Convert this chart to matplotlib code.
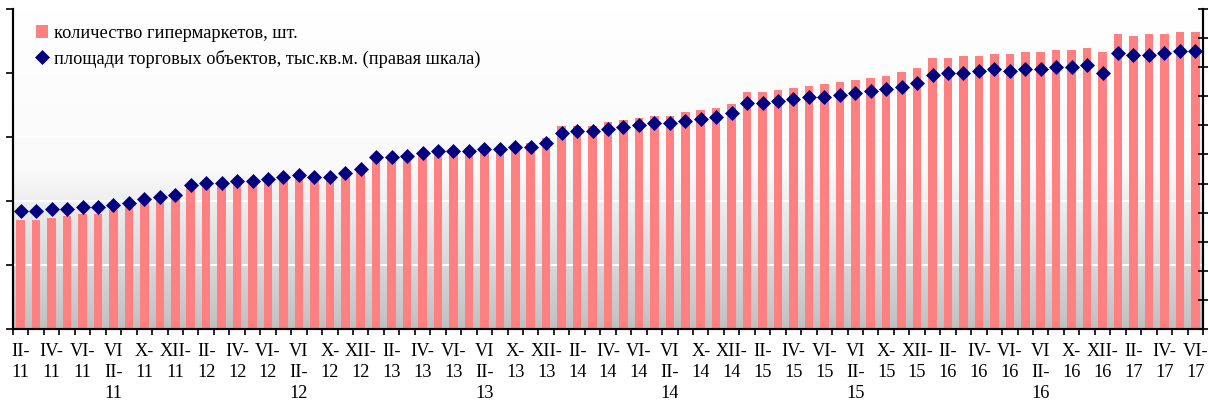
import numpy as np
import matplotlib
matplotlib.use('Agg')
import matplotlib.pyplot as plt
from matplotlib.colors import LinearSegmentedColormap

# monthly data, II-2011 ... VI-2017
hypermarkets = [170, 170, 173, 177, 180, 180, 186, 192, 197, 202,
                205, 222, 225, 225, 228, 228, 233, 236, 238, 234,
                234, 241, 247, 267, 267, 269, 272, 277, 277, 277,
                281, 283, 286, 291, 298, 317, 317, 317, 323, 327,
                330, 333, 333, 339, 342, 345, 352, 370, 370, 373,
                377, 380, 383, 386, 389, 392, 395, 402, 408, 423,
                423, 427, 427, 430, 430, 433, 433, 436, 436, 439,
                433, 461, 458, 461, 461, 464, 464]
area = [811, 811, 825, 825, 839, 839, 853, 866, 894, 908,
        921, 990, 1004, 1004, 1018, 1018, 1031, 1045, 1059, 1045,
        1045, 1073, 1100, 1183, 1183, 1191, 1212, 1226, 1226, 1226,
        1240, 1240, 1253, 1253, 1281, 1350, 1363, 1363, 1375, 1389,
        1405, 1418, 1418, 1432, 1446, 1460, 1487, 1556, 1556, 1570,
        1581, 1595, 1595, 1609, 1625, 1638, 1652, 1666, 1693, 1748,
        1762, 1762, 1774, 1788, 1774, 1788, 1788, 1801, 1801, 1815,
        1762, 1900, 1886, 1886, 1900, 1911, 1911]

tick_labels = ['II-\n11', 'IV-\n11', 'VI-\n11', 'VI\nII-\n11', 'X-\n11', 'XII-\n11',
               'II-\n12', 'IV-\n12', 'VI-\n12', 'VI\nII-\n12', 'X-\n12', 'XII-\n12',
               'II-\n13', 'IV-\n13', 'VI-\n13', 'VI\nII-\n13', 'X-\n13', 'XII-\n13',
               'II-\n14', 'IV-\n14', 'VI-\n14', 'VI\nII-\n14', 'X-\n14', 'XII-\n14',
               'II-\n15', 'IV-\n15', 'VI-\n15', 'VI\nII-\n15', 'X-\n15', 'XII-\n15',
               'II-\n16', 'IV-\n16', 'VI-\n16', 'VI\nII-\n16', 'X-\n16', 'XII-\n16',
               'II-\n17', 'IV-\n17', 'VI-\n17']

label_bars = 'количество гипермаркетов, шт.'
label_area = 'площади торговых объектов, тыс.кв.м. (правая шкала)'

plt.rcParams['font.family'] = ['Liberation Serif', 'DejaVu Serif']

fig = plt.figure(figsize=(12.08, 4.03), dpi=100)
ax = fig.add_axes([13 / 1208, 74 / 403, 1190 / 1208, 320 / 403])

x = np.arange(len(hypermarkets))
n = len(hypermarkets)

# gradient background
bg = LinearSegmentedColormap.from_list('bg', ['#ffffff', '#fafafa', '#c0c0c0'])
ax.imshow(np.linspace(0, 1, 256).reshape(-1, 1), cmap=bg, aspect='auto',
          extent=[-0.5, n - 0.5, 0, 500], origin='upper', zorder=0)

bars = ax.bar(x, hypermarkets, width=0.55, color='#ff8080', zorder=2)
ax.set_xlim(-0.5, n - 0.5)
ax.set_ylim(0, 500)
ax.set_yticks(np.arange(0, 501, 100))
ax.set_yticklabels([])
ax.yaxis.grid(True, color='white', linewidth=1.5)
ax.tick_params(axis='y', direction='out', length=5, width=1.2)

ax.set_xticks(np.arange(-0.5, n, 1))
ax.set_xticklabels([])
ax.tick_params(axis='x', which='major', direction='out', length=4, width=1.2)
ax.set_xticks(x[::2], minor=True)
ax.set_xticklabels(tick_labels, minor=True, fontsize=13.2, linespacing=1.32)
ax.tick_params(axis='x', which='minor', length=0, pad=10)

ax2 = ax.twinx()
line, = ax2.plot(x, area, 'D', color='#000080', markersize=7.3, markeredgewidth=0.5, zorder=3)
ax2.set_ylim(0, 2200)
ax2.set_yticks(np.arange(0, 2201, 200))
ax2.set_yticklabels([])
ax2.tick_params(axis='y', direction='inout', length=7, width=1.2)

for a in (ax, ax2):
    a.spines['top'].set_visible(False)
    a.spines['bottom'].set_linewidth(1.5)
    a.spines['left'].set_linewidth(1.5)
    a.spines['right'].set_linewidth(1.5)

ax2.legend([bars, line], [label_bars, label_area], loc='upper left',
           bbox_to_anchor=(36 / 1208, 1 - 25 / 403), bbox_transform=fig.transFigure,
           frameon=False, fontsize=13.2, handlelength=0.65, handleheight=0.65,
           handletextpad=0.35, labelspacing=0.42, borderpad=0, borderaxespad=0)

plt.savefig('out.png', dpi=100)
